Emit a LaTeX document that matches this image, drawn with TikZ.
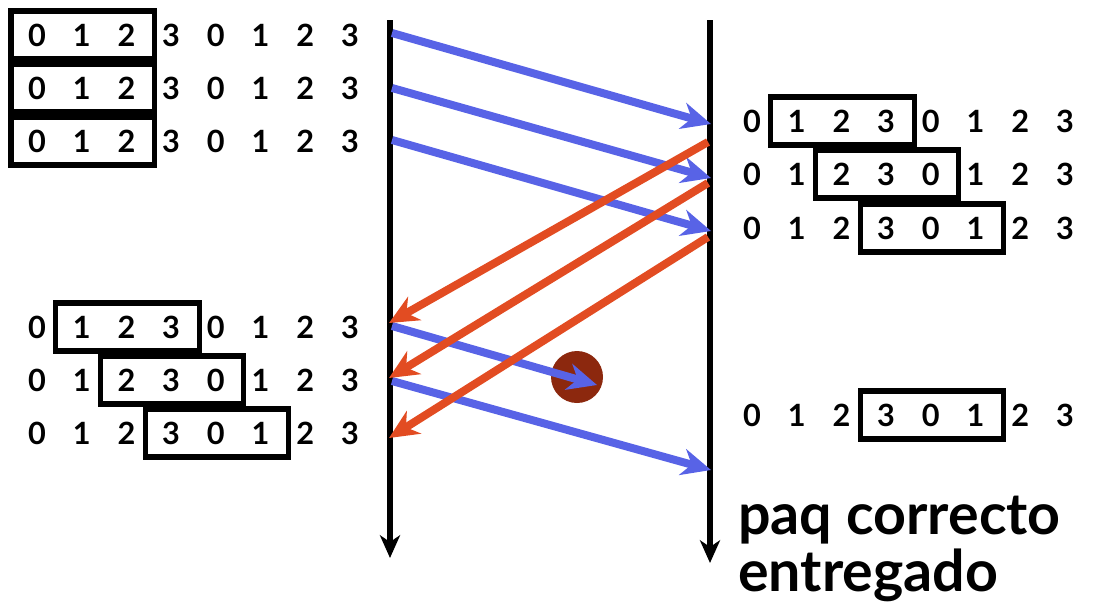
\documentclass[tikz,border=0pt]{standalone}
\usepackage{fontspec}
\setsansfont{Lato}
\renewcommand{\familydefault}{\sfdefault}
\usetikzlibrary{arrows.meta, calc}
\definecolor{pktB}{RGB}{88,99,230}
\definecolor{ackR}{RGB}{226,76,34}
\definecolor{lostR}{RGB}{140,40,14}
\tikzset{digit/.style={font=\fontsize{23}{23}\selectfont\bfseries, inner sep=0pt},
  seqbox/.style={line width=3.8pt},
  timeline/.style={line width=4pt, -{Stealth[length=17pt, width=15pt, inset=5pt]}},
  pkt/.style={line width=6pt, pktB, -{Stealth[length=22pt, width=20pt, inset=7pt]}},
  ack/.style={pkt, ackR},
  note/.style={font=\fontsize{43}{50}\selectfont\bfseries, inner sep=0pt, anchor=base west}}
% row of sequence numbers: name, x of first digit, y, first and last digit in the window
\newcommand{\seqrow}[5]{%
  \foreach \d [count=\i] in {0,1,2,3,0,1,2,3}
    \node[digit] (#1-\i) at ({#2+(\i-1)*44.7},#3) {\d};
  \draw[seqbox] ($(#1-#4)+(-26,-24)$) rectangle ($(#1-#5)+(28,24)$);}

\begin{document}
\begin{tikzpicture}[x=0.75pt, y=-0.75pt]
\useasboundingbox (0,0) rectangle (1095,604);
% sender windows
\seqrow{snd1}{37}{35}{1}{3}
\seqrow{snd2}{37}{88}{1}{3}
\seqrow{snd3}{37}{141}{1}{3}
\seqrow{snd4}{37}{327}{2}{4}
\seqrow{snd5}{37}{380}{3}{5}
\seqrow{snd6}{37}{433}{4}{6}
% receiver windows
\seqrow{rcv1}{752}{121}{2}{4}
\seqrow{rcv2}{752}{174}{3}{5}
\seqrow{rcv3}{752}{228}{4}{6}
\seqrow{rcv4}{752}{415}{4}{6}
% time lines
\coordinate (sndTop) at (390,20);
\coordinate (sndEnd) at (390,558);
\coordinate (rcvTop) at (710,20);
\coordinate (rcvEnd) at (710,563);
\draw[timeline] (sndTop) -- (sndEnd);
\draw[timeline] (rcvTop) -- (rcvEnd);
% points on the time lines
\coordinate (s1) at (392,33);
\coordinate (s2) at (392,88);
\coordinate (s3) at (392,140);
\coordinate (s4) at (392,326);
\coordinate (s5) at (392,381);
\coordinate (r1) at (711,124);
\coordinate (r2) at (711,178);
\coordinate (r3) at (711,231);
\coordinate (r4) at (711,470);
\coordinate (a1) at (708,142);
\coordinate (a2) at (708,183);
\coordinate (a3) at (708,237);
\coordinate (b1) at (389,323);
\coordinate (b2) at (389,378);
\coordinate (b3) at (389,438);
% lost packet
\coordinate (lost) at (577,377);
\coordinate (lostTip) at (597,385);
\fill[lostR] (lost) circle[radius=19.5pt];
% packets
\draw[pkt] (s1) -- (r1);
\draw[pkt] (s2) -- (r2);
\draw[pkt] (s3) -- (r3);
\draw[pkt] (s4) -- (lostTip);
\draw[pkt] (s5) -- (r4);
% acks
\draw[ack] (a1) -- (b1);
\draw[ack] (a2) -- (b2);
\draw[ack] (a3) -- (b3);
% caption
\node[note] (note1) at (738,534) {paq correcto};
\node[note] (note2) at (738,591) {entregado};
\end{tikzpicture}
\end{document}
